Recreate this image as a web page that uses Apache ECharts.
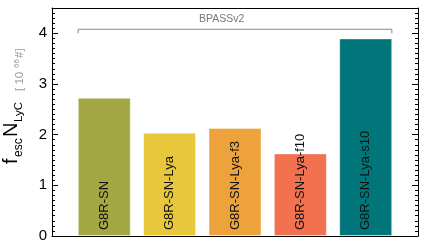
<!DOCTYPE html>
<html><head><meta charset="utf-8">
<script src="https://cdn.jsdelivr.net/npm/echarts@6/dist/echarts.min.js"></script>
<style>html,body{margin:0;padding:0;background:#fff}#c{width:436px;height:249px}</style>
</head><body><div id="c"></div>
<script>
const categories = ['G8R-SN', 'G8R-SN-Lya', 'G8R-SN-Lya-f3', 'G8R-SN-Lya-f10', 'G8R-SN-Lya-s10'];
const values = [2.73, 2.04, 2.13, 1.63, 3.90];
const colors = ['#a3a845', '#e8c73c', '#eda23c', '#f2714e', '#00767a'];
const yTicks = [0, 1, 2, 3, 4];
const bracketLabel = 'BPASSv2';

const chart = echarts.init(document.getElementById('c'), null, {renderer: 'canvas'});
const FONT = '"Liberation Sans", Arial, sans-serif';
const barData = values.map((v, i) => ({
  value: [i, v], name: categories[i],
  itemStyle: {color: colors[i]}
}));
const yAxisCommon = {
  type: 'value', min: 0, max: 4.5, interval: 1,
  axisLine: {show: true, onZero: false, lineStyle: {color: '#000', width: 1}},
  axisTick: {show: true, inside: true, length: 6, lineStyle: {color: '#000'}},
  minorTick: {show: true, splitNumber: 10, length: 3, lineStyle: {color: '#000'}},
  splitLine: {show: false}
};
chart.setOption({
  animation: false,
  grid: {left: 52, right: 18, top: 8, bottom: 13},
  xAxis: [
    {type: 'value', min: -0.8, max: 4.8, position: 'bottom',
     axisLine: {show: true, onZero: false, lineStyle: {color: '#000', width: 1}},
     axisTick: {show: false}, axisLabel: {show: false}, splitLine: {show: false}},
    {type: 'value', min: -0.8, max: 4.8, position: 'top',
     axisLine: {show: true, onZero: false, lineStyle: {color: '#000', width: 1}},
     axisTick: {show: false}, axisLabel: {show: false}, splitLine: {show: false}}
  ],
  yAxis: [
    Object.assign({}, yAxisCommon, {position: 'left',
      axisLabel: {show: true, margin: 5, fontSize: 15, color: '#000', fontFamily: FONT,
        formatter: v => yTicks.includes(v) ? String(v) : ''}}),
    Object.assign({}, yAxisCommon, {position: 'right', axisLabel: {show: false}})
  ],
  series: [
    {type: 'bar', data: barData, barWidth: 53,
     itemStyle: {borderColor: 'rgba(255,255,255,0.45)', borderWidth: 1},
     label: {show: true, position: 'insideBottom', rotate: 90, align: 'left', verticalAlign: 'middle',
       distance: 6, formatter: p => p.name, fontSize: 13, color: '#111', fontFamily: FONT}},
    {type: 'line', symbol: 'none', silent: true,
     data: [[-0.4, 4.0], [-0.4, 4.08], [4.4, 4.08], [4.4, 4.0]],
     lineStyle: {color: '#888', width: 1}}
  ],
  graphic: [
    {type: 'text', left: 199, top: 14, style: {text: bracketLabel, fontSize: 10.5, fill: '#777', fontFamily: FONT}},
    {type: 'group', x: 21, y: 166, rotation: Math.PI / 2, children: [
      {type: 'text', x: 2, y: 0, style: {text: 'f', fontSize: 20, fill: '#000', fontFamily: FONT, textVerticalAlign: 'bottom'}},
      {type: 'text', x: 9, y: 4, style: {text: 'esc', fontSize: 12, fill: '#000', fontFamily: FONT, textVerticalAlign: 'bottom'}},
      {type: 'text', x: 29, y: 0, style: {text: 'N', fontSize: 20, fill: '#000', fontFamily: FONT, textVerticalAlign: 'bottom'}},
      {type: 'text', x: 44, y: 4, style: {text: 'LyC', fontSize: 11.5, fill: '#000', fontFamily: FONT, textVerticalAlign: 'bottom'}},
      {type: 'text', x: 75, y: 5, style: {text: '[ 10', fontSize: 11.5, fill: '#999', fontFamily: FONT, textVerticalAlign: 'bottom'}},
      {type: 'text', x: 98, y: -0.5, style: {text: '66', fontSize: 8, fill: '#999', fontFamily: FONT, textVerticalAlign: 'bottom'}},
      {type: 'text', x: 108, y: 5, style: {text: '#]', fontSize: 11.5, fill: '#999', fontFamily: FONT, textVerticalAlign: 'bottom'}}
    ]}
  ]
});
</script></body></html>
